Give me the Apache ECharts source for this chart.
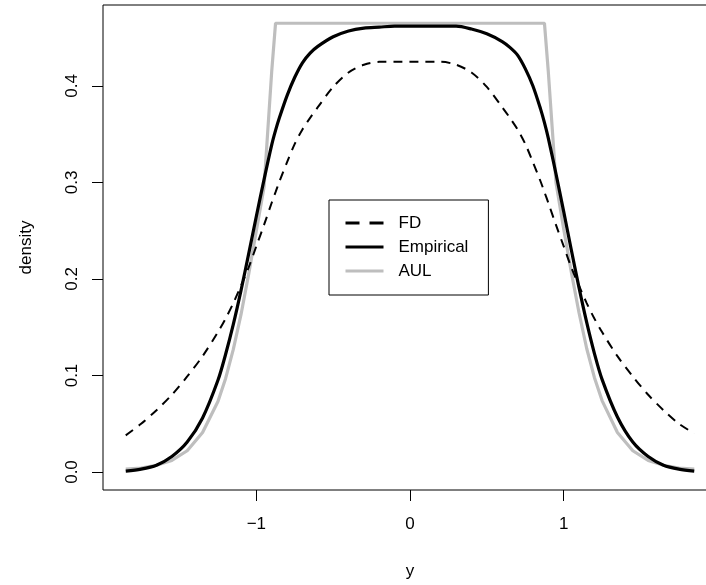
<!DOCTYPE html>
<html>
<head>
<meta charset="utf-8">
<script src="https://cdn.jsdelivr.net/npm/echarts@6/dist/echarts.min.js"></script>
<style>
html,body{margin:0;padding:0;background:#fff;overflow:hidden;width:706px;height:585px;}
#c{width:720px;height:585px;}
</style>
</head>
<body>
<div id="c"></div>
<script>
// ---- data ----
const xs = [-1.85,-1.75,-1.65,-1.55,-1.45,-1.35,-1.25,-1.2,-1.15,-1.1,-1.05,-1.0,-0.95,-0.9,-0.875,-0.85,-0.8,-0.75,-0.7,-0.65,-0.6,-0.5,-0.4,-0.3,-0.2,-0.1,0,
            0.1,0.2,0.3,0.4,0.5,0.6,0.65,0.7,0.75,0.8,0.85,0.875,0.9,0.95,1.0,1.05,1.1,1.15,1.2,1.25,1.35,1.45,1.55,1.65,1.75,1.85];
const fdVals = [0.038,0.050,0.064,0.080,0.099,0.120,0.145,0.159,0.175,0.193,0.212,0.234,0.256,0.279,0.290,0.301,0.321,0.340,0.355,0.367,0.378,0.399,0.414,0.422,0.425,0.425,0.425,
            0.425,0.425,0.422,0.414,0.399,0.378,0.367,0.355,0.340,0.321,0.301,0.290,0.279,0.256,0.234,0.212,0.193,0.175,0.159,0.145,0.120,0.099,0.080,0.064,0.050,0.040];
const empVals = [0.001,0.003,0.007,0.016,0.031,0.056,0.095,0.122,0.153,0.188,0.226,0.265,0.303,0.339,0.354,0.367,0.390,0.409,0.424,0.434,0.441,0.451,0.457,0.460,0.461,0.462,0.462,
            0.462,0.462,0.462,0.459,0.454,0.446,0.440,0.432,0.418,0.400,0.376,0.362,0.346,0.309,0.270,0.230,0.191,0.155,0.123,0.096,0.057,0.031,0.016,0.007,0.003,0.001];
const aulVals = [0.003,0.004,0.007,0.012,0.022,0.041,0.073,0.097,0.127,0.163,0.205,0.250,0.295,0.415,0.465,0.465,0.465,0.465,0.465,0.465,0.465,0.465,0.465,0.465,0.465,0.465,0.465,
            0.465,0.465,0.465,0.465,0.465,0.465,0.465,0.465,0.465,0.465,0.465,0.465,0.415,0.300,0.252,0.207,0.165,0.128,0.098,0.074,0.041,0.022,0.012,0.007,0.004,0.003];
const xTicks = [-1, 0, 1];
const yTicks = [0, 0.1, 0.2, 0.3, 0.4];
const seriesNames = ['FD', 'Empirical', 'AUL'];

const pairs = v => xs.map((x, i) => [x, v[i]]);
const FONT = 'Liberation Sans, Arial, sans-serif';
const GRAY = '#bebebe';

const chart = echarts.init(document.getElementById('c'), null, {renderer: 'canvas', width: 720, height: 585});
chart.setOption({
  animation: false,
  backgroundColor: '#fff',
  grid: {left: 103, right: 3, top: 5, bottom: 95, show: true, borderColor: '#000', borderWidth: 1, backgroundColor: 'transparent'},
  xAxis: {
    type: 'value', min: -1.998, max: 1.998,
    name: 'y', nameLocation: 'middle', nameGap: 73,
    nameTextStyle: {fontFamily: FONT, fontSize: 17, color: '#000'},
    axisLine: {show: false, onZero: false},
    splitLine: {show: false},
    axisTick: {show: true, inside: false, length: 11, lineStyle: {color: '#000', width: 1}, customValues: xTicks},
    axisLabel: {fontFamily: FONT, fontSize: 17, color: '#000', margin: 26, customValues: xTicks,
      formatter: v => (v < 0 ? '\u2212' + Math.abs(v) : String(v))}
  },
  yAxis: {
    type: 'value', min: -0.01865, max: 0.4839,
    name: 'density', nameLocation: 'middle', nameGap: 68, nameRotate: 90,
    nameTextStyle: {fontFamily: FONT, fontSize: 17, color: '#000'},
    axisLine: {show: false, onZero: false},
    splitLine: {show: false},
    axisTick: {show: true, inside: false, length: 11, lineStyle: {color: '#000', width: 1}, customValues: yTicks},
    axisLabel: {fontFamily: FONT, fontSize: 17, color: '#000', margin: 22, rotate: 90, customValues: yTicks,
      formatter: v => v.toFixed(1)}
  },
  legend: {
    left: 329, top: 200, orient: 'vertical',
    backgroundColor: '#fff', borderColor: '#000', borderWidth: 1, borderRadius: 0,
    padding: [13, 20, 14, 15],
    itemWidth: 38, itemHeight: 14, itemGap: 4,
    itemStyle: {opacity: 0},
    textStyle: {fontFamily: FONT, fontSize: 17, color: '#000', lineHeight: 20, padding: [0, 0, 0, 10]},
    data: [
      {name: 'FD', lineStyle: {type: [14, 10], width: 3, color: '#000'}},
      {name: 'Empirical', lineStyle: {width: 3, color: '#000'}},
      {name: 'AUL', lineStyle: {width: 3, color: GRAY}}
    ]
  },
  series: [
    {name: seriesNames[0], type: 'line', data: pairs(fdVals), showSymbol: false, symbol: 'none', smooth: 0.3,
      lineStyle: {color: '#000', width: 2, type: [9, 7]}, itemStyle: {color: '#000'}, z: 3},
    {name: seriesNames[1], type: 'line', data: pairs(empVals), showSymbol: false, symbol: 'none', smooth: 0.3,
      lineStyle: {color: '#000', width: 3.2}, itemStyle: {color: '#000'}, z: 4},
    {name: seriesNames[2], type: 'line', data: pairs(aulVals), showSymbol: false, symbol: 'none', smooth: false,
      lineStyle: {color: GRAY, width: 3.2}, itemStyle: {color: GRAY}, z: 2}
  ]
});
</script>
</body>
</html>
